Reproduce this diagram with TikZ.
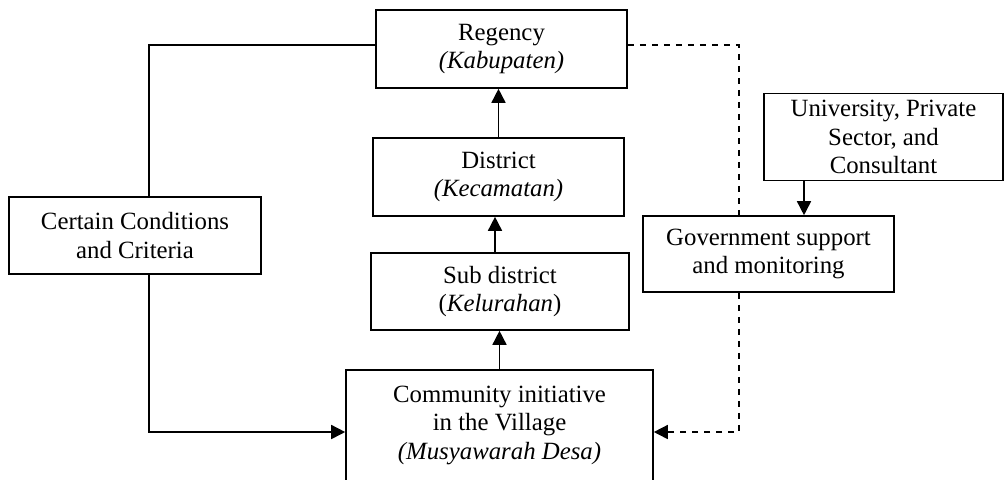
\documentclass[tikz,border=0pt]{standalone}
\usepackage{fontspec}
\setmainfont{Liberation Serif}
\usetikzlibrary{arrows.meta}
\tikzset{
    box/.style={draw,fill=white,line width=0.8pt,align=center,
        font=\fontsize{12.4}{14.2}\selectfont},
    arr/.style={-{Triangle[length=7pt,width=7pt]},line width=0.8pt},
    link/.style={line width=0.8pt}
}
\begin{document}
\begin{tikzpicture}[x=0.5pt,y=-0.5pt]
    \useasboundingbox (0,0) rectangle (1005,479);
    \clip (0,0) rectangle (1005,479);
    \coordinate (dtop) at (739,45);
    \node[box,minimum width=125.5pt,minimum height=39pt] (regency) at (501.5,49)
        {Regency\\\textit{(Kabupaten)}};
    \node[box,minimum width=125.5pt,minimum height=39pt] (district) at (498.5,177)
        {District\\\textit{(Kecamatan)}};
    \node[box,minimum width=129pt,minimum height=38.5pt] (subdist) at (500,291.5)
        {Sub district\\(\textit{Kelurahan})};
    \node[box,minimum width=153.5pt,anchor=north,inner ysep=8pt] (village) at (499.5,369)
        {Community initiative\\in the Village\\\textit{(Musyawarah Desa)}\\\mbox{}};
    \node[box,minimum width=126pt,minimum height=38.5pt] (criteria) at (135,235.5)
        {Certain Conditions\\and Criteria};
    \node[box,minimum width=125.5pt,minimum height=38pt] (gov) at (768.5,254)
        {Government support\\and monitoring};
    \node[box,minimum width=119.5pt,minimum height=39pt] (univ) at (883.5,137)
        {University, Private\\Sector, and\\Consultant};
    % hierarchy
    \draw[arr] (village.north) -- (village.north |- subdist.south);
    \draw[arr] ([xshift=-2.5pt]subdist.north) -- ([xshift=-2.5pt]subdist.north |- district.south);
    \draw[arr] (district.north) -- (district.north |- regency.south);
    % conditions
    \draw[link] ([xshift=7pt]criteria.north) |- (regency.west |- dtop);
    \draw[arr] ([xshift=7pt]criteria.south) |- ([yshift=-31.5pt]village.north west);
    % support
    \draw[link,dashed] (regency.east |- dtop) -- (dtop) -- (dtop |- gov.north);
    \draw[arr,dashed] (dtop |- gov.south) |- ([yshift=-31.5pt]village.north east);
    \draw[arr] ([xshift=-39.75pt]univ.south) -- ([xshift=-39.75pt]univ.south |- gov.north);
\end{tikzpicture}
\end{document}
